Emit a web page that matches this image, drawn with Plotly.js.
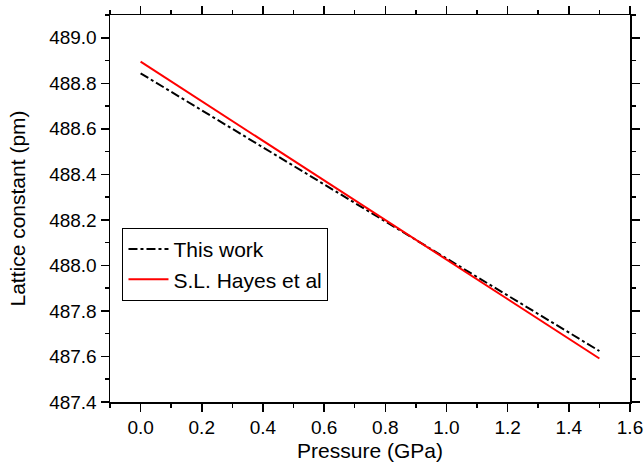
<!DOCTYPE html>
<html>
<head>
<meta charset="utf-8">
<script src="https://cdn.plot.ly/plotly-3.0.1.min.js"></script>
<style>html,body{margin:0;padding:0;background:#fff;}#chart{width:644px;height:464px;}</style>
</head>
<body>
<div id="chart"></div>
<script>
const pressureThisWork = [0.0, 1.5];
const latticeThisWork = [488.844, 487.624];
const pressureHayes = [0.0, 1.5];
const latticeHayes = [488.895, 487.591];
const seriesNames = ["This work", "S.L. Hayes et al"];

const font = "Arial, 'Liberation Sans', sans-serif";
const traces = [
  {x: pressureThisWork, y: latticeThisWork, mode: "lines", name: seriesNames[0],
   line: {color: "#000000", width: 2, dash: "dashdot"}},
  {x: pressureHayes, y: latticeHayes, mode: "lines", name: seriesNames[1],
   line: {color: "#ff0000", width: 2}}
];
const axisCommon = {
  showgrid: false, zeroline: false, showline: true, linecolor: "#000", linewidth: 1.5,
  mirror: "allticks", ticks: "outside", ticklen: 8, tickwidth: 1.5, tickcolor: "#000",
  tickfont: {family: font, size: 19, color: "#000"}
};
const layout = {
  width: 644, height: 464,
  margin: {l: 110, r: 14, t: 15, b: 62},
  paper_bgcolor: "#fff", plot_bgcolor: "#fff",
  showlegend: true,
  legend: {x: 0.024, y: 0.45, xanchor: "left", yanchor: "top",
    bordercolor: "#000", borderwidth: 1, bgcolor: "#fff",
    font: {family: font, size: 21, color: "#000"}, tracegroupgap: 0, itemwidth: 40},
  xaxis: Object.assign({}, axisCommon, {
    range: [-0.1, 1.6], dtick: 0.2, tick0: 0, tickformat: ".1f",
    minor: {dtick: 0.1, tick0: 0, ticks: "outside", ticklen: 4, tickwidth: 1.5, tickcolor: "#000"},
    title: {text: "Pressure (GPa)", font: {family: font, size: 21, color: "#000"}, standoff: 6}
  }),
  yaxis: Object.assign({}, axisCommon, {
    range: [487.4, 489.1], dtick: 0.2, tick0: 487.4, tickformat: ".1f",
    minor: {dtick: 0.1, tick0: 487.4, ticks: "outside", ticklen: 4, tickwidth: 1.5, tickcolor: "#000"},
    title: {text: "Lattice constant (pm)", font: {family: font, size: 21, color: "#000"}, standoff: 18}
  })
};
Plotly.newPlot("chart", traces, layout, {displayModeBar: false, staticPlot: true});
</script>
</body>
</html>
